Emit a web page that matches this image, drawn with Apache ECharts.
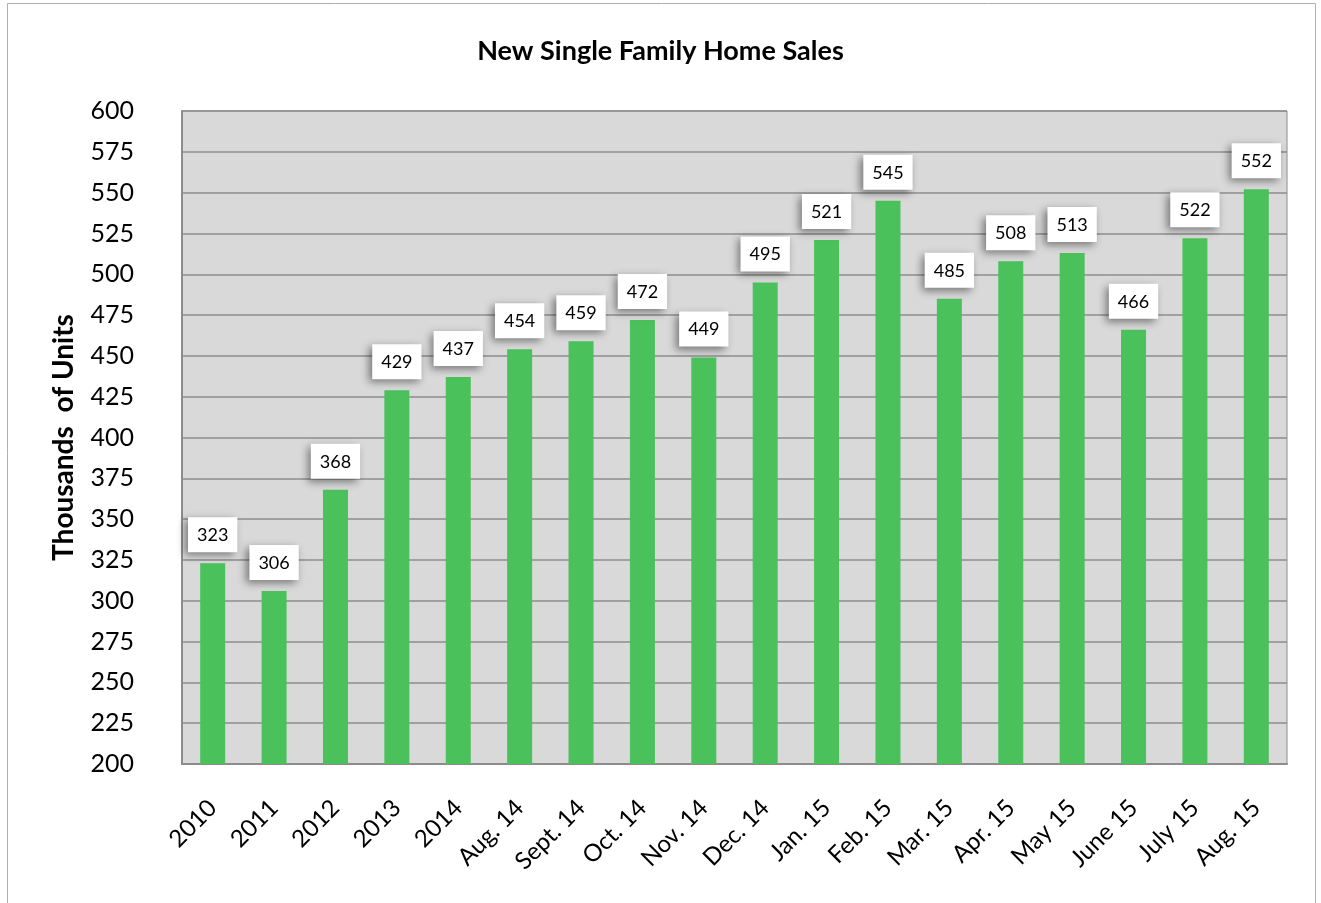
<!DOCTYPE html>
<html>
<head>
	<meta charset="UTF-8">
	<title>New Single Family Home Sales</title>
	<script src="https://cdn.jsdelivr.net/npm/echarts@6/dist/echarts.min.js"></script>
	<style>
		html, body { margin: 0; padding: 0; background: #fff; }
		#chart { width: 1321px; height: 903px; }
	</style>
</head>
<body>
	<div id="chart"></div>
<script type="text/javascript">
		// data
		var categories = ['2010', '2011', '2012', '2013', '2014', 'Aug. 14', 'Sept. 14', 'Oct. 14', 'Nov. 14',
			'Dec. 14', 'Jan. 15', 'Feb. 15', 'Mar. 15', 'Apr. 15', 'May 15', 'June 15', 'July 15', 'Aug. 15'];
		var sales = [323, 306, 368, 429, 437, 454, 459, 472, 449, 495, 521, 545, 485, 508, 513, 466, 522, 552];
		var yTicks = [200, 600, 25];

		var font = 'Lato, "Open Sans", sans-serif';
		var myChart = echarts.init(document.getElementById('chart'));

		var option = {
			backgroundColor: '#fff',
			textStyle: { fontFamily: font },
			graphic: [{
				type: 'rect',
				shape: { x: 7.5, y: 3.5, width: 1308, height: 920 },
				style: { fill: 'none', stroke: '#b0b0b0', lineWidth: 1 },
				silent: true
			}],
			title: {
				text: 'New Single Family Home Sales',
				left: 'center',
				top: 33,
				textStyle: { fontSize: 27, fontWeight: 'bold', color: '#000', fontFamily: font }
			},
			grid: {
				left: 182, right: 34, top: 111, bottom: 139,
				show: true,
				backgroundColor: '#d9d9d9',
				borderColor: '#8c8c8c',
				borderWidth: 1
			},
			xAxis: {
				type: 'category',
				data: categories,
				axisLine: { lineStyle: { color: '#8c8c8c', width: 2 } },
				axisTick: { show: false },
				axisLabel: {
					interval: 0,
					rotate: 45,
					margin: 40,
					fontSize: 24,
					color: '#000',
					fontFamily: font
				}
			},
			yAxis: {
				type: 'value',
				min: yTicks[0],
				max: yTicks[1],
				interval: yTicks[2],
				name: 'Thousands  of Units',
				nameLocation: 'middle',
				nameGap: 104,
				nameTextStyle: { fontSize: 28, fontWeight: 'bold', color: '#000', fontFamily: font },
				axisLine: { show: true, lineStyle: { color: '#8c8c8c', width: 2 } },
				axisTick: { show: false },
				axisLabel: { fontSize: 25, color: '#000', margin: 48, fontFamily: font },
				splitLine: { lineStyle: { color: '#8c8c8c', width: 1.5 } }
			},
			series: [{
				type: 'bar',
				data: sales,
				barWidth: 25,
				itemStyle: { color: '#4bc15b' },
				label: {
					show: true,
					position: 'top',
					distance: 11,
					fontSize: 18,
					color: '#000',
					fontFamily: font,
					backgroundColor: '#fff',
					padding: [9, 9, 8, 9],
					shadowBlur: 8,
					shadowColor: 'rgba(0,0,0,0.45)',
					shadowOffsetX: -3,
					shadowOffsetY: 3
				}
			}]
		};

		myChart.setOption(option);
	</script>
</body>
</html>
